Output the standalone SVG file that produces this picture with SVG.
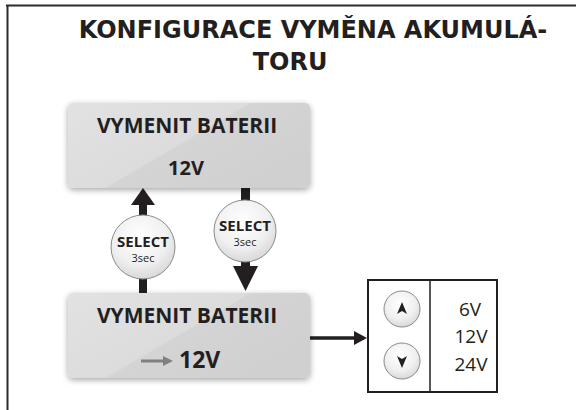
<svg xmlns="http://www.w3.org/2000/svg" width="576" height="410" viewBox="0 0 576 410">
<style>
.title{font-family:"DejaVu Sans",sans-serif;font-weight:bold;font-size:24px;fill:#231f20;text-anchor:middle}
.lbl{font-family:"Open Sans","Liberation Sans",sans-serif;font-weight:bold;fill:#231f20;text-anchor:middle}
.opt{font-family:"Open Sans","Liberation Sans",sans-serif;font-size:19px;fill:#231f20;text-anchor:middle}
.sec{font-family:"Open Sans","Liberation Sans",sans-serif;font-size:11px;fill:#231f20;text-anchor:middle}
.box{fill:url(#boxg);filter:url(#sh)}
.sel{fill:url(#cg);stroke:#8a8a8a;stroke-width:1}
.btn{fill:url(#cg);stroke:#8a8a8a;stroke-width:1}
.frame{stroke:#2b2b2b;stroke-width:2;fill:none}
</style>
<defs>
<linearGradient id="boxg" x1="0" y1="0" x2="1" y2="0.6">
<stop offset="0" stop-color="#e2e2e2"/>
<stop offset="0.55" stop-color="#dcdcdc"/>
<stop offset="0.56" stop-color="#d4d4d4"/>
<stop offset="1" stop-color="#d0d0d0"/>
</linearGradient>
<radialGradient id="cg" cx="0.45" cy="0.35" r="0.7">
<stop offset="0" stop-color="#ffffff"/>
<stop offset="0.6" stop-color="#f0f0f0"/>
<stop offset="1" stop-color="#d4d4d4"/>
</radialGradient>
<filter id="sh" x="-10%" y="-20%" width="120%" height="150%">
<feGaussianBlur in="SourceAlpha" stdDeviation="3"/>
<feOffset dy="2"/>
<feComponentTransfer><feFuncA type="linear" slope="0.35"/></feComponentTransfer>
<feMerge><feMergeNode/><feMergeNode in="SourceGraphic"/></feMerge>
</filter>
</defs>
<g id="frame">
<line class="frame" x1="6" y1="5.5" x2="576" y2="5.5"/>
<line class="frame" x1="7.5" y1="5" x2="7.5" y2="410"/>
</g>
<g id="title">
<text class="title" x="313" y="38">KONFIGURACE VYMĚNA AKUMULÁ-</text>
<text class="title" x="290" y="70">TORU</text>
</g>
<g id="connectors">
<rect x="139" y="204" width="8" height="90" fill="#231f20"/>
<polygon points="131,205 143,188 155,205" fill="#231f20"/>
<rect x="241" y="187" width="9" height="80" fill="#231f20"/>
<polygon points="233,266 245.5,291 258,266" fill="#231f20"/>
<line x1="310" y1="338" x2="356" y2="338" stroke="#231f20" stroke-width="3.5"/>
<polygon points="354,331 367,338 354,345" fill="#231f20"/>
</g>
<g id="box-top">
<rect class="box" x="68" y="103" width="242" height="85" rx="5"/>
<text class="lbl" x="187" y="133" font-size="21">VYMENIT BATERII</text>
<text class="lbl" x="186" y="175" font-size="20">12V</text>
</g>
<g id="box-bottom">
<rect class="box" x="68" y="293" width="242" height="85" rx="5"/>
<text class="lbl" x="187" y="323" font-size="21">VYMENIT BATERII</text>
<line x1="141" y1="361" x2="165" y2="361" stroke="#808080" stroke-width="3"/>
<polygon points="163,356 173,361 163,366" fill="#808080"/>
<text class="lbl" x="179" y="368" font-size="23" style="text-anchor:start">12V</text>
</g>
<g id="select-up">
<circle class="sel" cx="143" cy="247" r="32"/>
<text class="lbl" x="143" y="247" font-size="15">SELECT</text>
<text class="sec" x="143" y="262">3sec</text>
</g>
<g id="select-down">
<circle class="sel" cx="245" cy="231" r="31"/>
<text class="lbl" x="245" y="231" font-size="15">SELECT</text>
<text class="sec" x="245" y="246">3sec</text>
</g>
<g id="panel">
<rect x="368" y="280" width="129" height="112" fill="#fff" stroke="#231f20" stroke-width="2"/>
<line x1="430" y1="280" x2="430" y2="392" stroke="#231f20" stroke-width="1.5"/>
<circle class="btn" cx="402" cy="309" r="18"/>
<polygon points="397,314 402,302 407,314 402,311" fill="#231f20"/>
<circle class="btn" cx="402" cy="361" r="18"/>
<polygon points="397,356 402,368 407,356 402,359" fill="#231f20"/>
<text class="opt" x="470" y="316">6V</text>
<text class="opt" x="471" y="343">12V</text>
<text class="opt" x="471" y="371">24V</text>
</g>
</svg>
